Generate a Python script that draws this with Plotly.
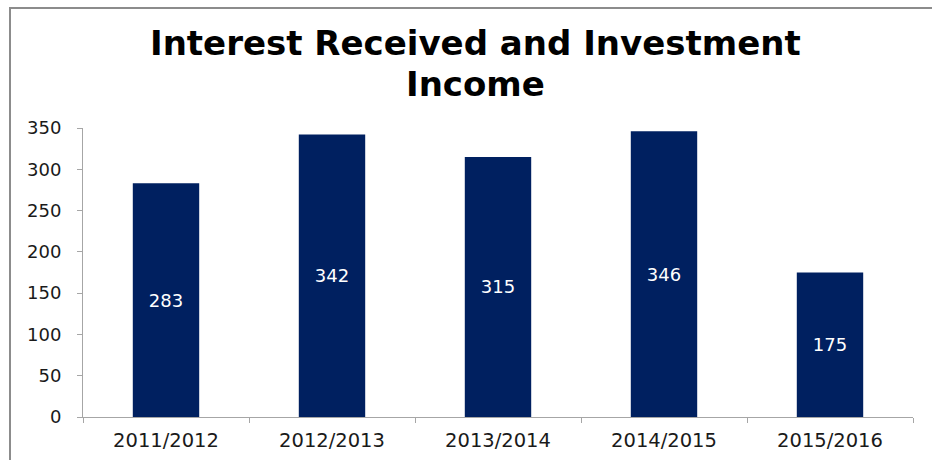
import plotly.graph_objects as go

# Financial years and income figures
years = ["2011/2012", "2012/2013", "2013/2014", "2014/2015", "2015/2016"]
income = [283, 342, 315, 346, 175]
y_ticks = [0, 50, 100, 150, 200, 250, 300, 350]
title_lines = ["Interest Received and Investment", "Income"]

W, H = 932, 460
L, R, T, B = 83, 19, 128, 43
plot_w = W - L - R
plot_h = H - T - B

def px_to_paper_x(px):
    return (px - L) / plot_w

def px_to_paper_y(py):
    return (H - B - py) / plot_h

FONT = "DejaVu Sans"

fig = go.Figure(
    go.Bar(
        x=years,
        y=income,
        marker=dict(color="#002060", line=dict(width=0)),
        text=[str(v) for v in income],
        textposition="inside",
        insidetextanchor="middle",
        textangle=0,
        constraintext="none",
        textfont=dict(family=FONT, size=18, color="white"),
        width=0.4,
        hoverinfo="x+y",
    )
)

# two-line bold heading, each line placed on its own
title_tops = [21, 62]
annotations = [
    dict(
        text=f"<b>{line}</b>",
        xref="paper",
        yref="paper",
        x=px_to_paper_x(475),
        y=px_to_paper_y(top),
        xanchor="center",
        yanchor="top",
        showarrow=False,
        font=dict(family=FONT, size=34, color="black"),
    )
    for line, top in zip(title_lines, title_tops)
]

fig.update_layout(
    width=W,
    height=H,
    margin=dict(l=L, r=R, t=T, b=B),
    paper_bgcolor="white",
    plot_bgcolor="white",
    showlegend=False,
    xaxis=dict(
        showgrid=False,
        showline=True,
        linecolor="#a6a6a6",
        linewidth=1,
        ticks="outside",
        tickson="boundaries",
        ticklen=5,
        tickcolor="#a6a6a6",
        tickfont=dict(family=FONT, size=19.5, color="#1a1a1a"),
        ticklabelstandoff=6,
        zeroline=False,
        automargin=False,
    ),
    yaxis=dict(
        range=[0, 350],
        tickvals=y_ticks,
        showgrid=False,
        showline=True,
        linecolor="#a6a6a6",
        linewidth=1,
        ticks="outside",
        ticklen=5,
        tickcolor="#a6a6a6",
        tickfont=dict(family=FONT, size=18, color="#1a1a1a"),
        ticklabelstandoff=12,
        zeroline=False,
        automargin=False,
    ),
    annotations=annotations,
    shapes=[
        dict(
            type="rect",
            xref="paper",
            yref="paper",
            x0=px_to_paper_x(10),
            x1=px_to_paper_x(W + 20),
            y0=px_to_paper_y(H + 20),
            y1=px_to_paper_y(8),
            line=dict(color="#8c8c8c", width=2),
            fillcolor="rgba(0,0,0,0)",
            layer="below",
        )
    ],
)

fig.write_html("out.html")
